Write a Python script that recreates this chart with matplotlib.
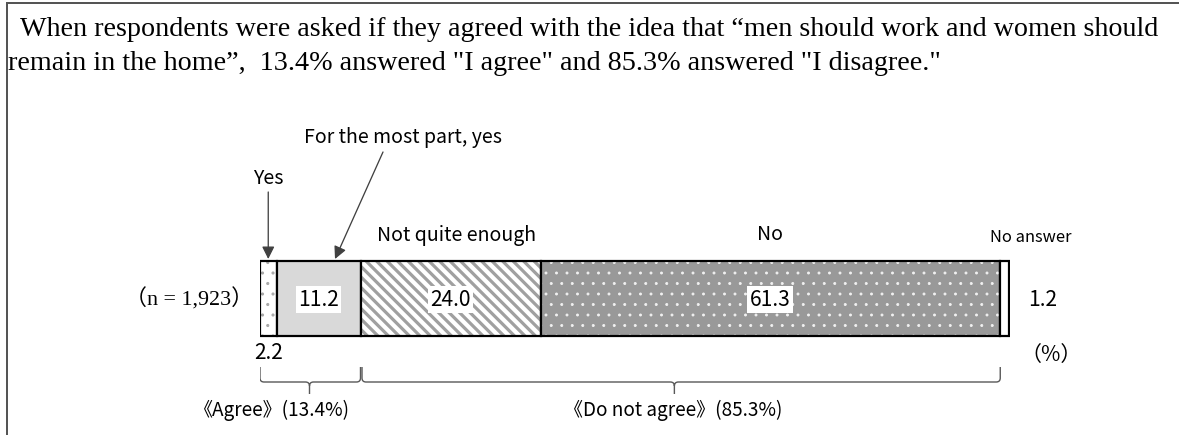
import matplotlib
matplotlib.use("Agg")
import matplotlib.pyplot as plt
import numpy as np
from matplotlib.path import Path
from matplotlib.patches import PathPatch
from matplotlib.lines import Line2D

# data
categories = ["Yes", "For the most part, yes", "Not quite enough", "No", "No answer"]
values = [2.2, 11.2, 24.0, 61.3, 1.2]
groups = ["《Agree》(13.4%)", "《Do not agree》(85.3%)"]
group_totals = [13.4, 85.3]
n_label = "（n = 1,923）"
header = ["When respondents were asked if they agreed with the idea that \u201cmen should work and women should",
          "remain in the home\u201d,  13.4% answered \"I agree\" and 85.3% answered \"I disagree.\""]

W, H, DPI = 1179, 435, 126


def pt(px):
    return px * 72 / DPI


GOTHIC = ["Noto Sans CJK JP", "DejaVu Sans"]
SERIF = ["Liberation Serif", "Noto Sans CJK JP", "DejaVu Serif"]

fig = plt.figure(figsize=(W / DPI, H / DPI), dpi=DPI)
# x in percent (0..100 -> 260..1010 px), y in pixels from the top
ax = fig.add_axes([260 / W, 0, 750 / W, 1])
ax.set_xlim(0, 100)
ax.set_ylim(H, 0)
ax.axis("off")

# frame lines
fig.add_artist(Line2D([7 / W, 1], [1 - 3 / H, 1 - 3 / H], color="#555555", lw=pt(2)))
fig.add_artist(Line2D([7 / W, 7 / W], [1 - 3 / H, 0], color="#555555", lw=pt(2)))

# header text
fig.text(20 / W, 1 - 29 / H, header[0], family=SERIF, fontsize=pt(28.1), va="center", ha="left")
fig.text(8 / W, 1 - 63 / H, header[1], family=SERIF, fontsize=pt(28.1), va="center", ha="left")

# bar
bar_y, bar_h = 298.5, 75
fills = ["white", "#d9d9d9", "white", "#999999", "white"]
hatch_cols = ["#a8a8a8", "#d9d9d9", "#a0a0a0", "#f2f2f2", "white"]
hatches = ["..", None, "\\\\\\\\", "..", None]
hatch_lw = [1.0, 1.0, 3.2, 0.8, 1.0]
lefts = np.concatenate([[0], np.cumsum(values)[:-1]])
for v, l, fc, hc, h, hl in zip(values, lefts, fills, hatch_cols, hatches, hatch_lw):
    plt.rcParams["hatch.linewidth"] = pt(hl)
    ax.barh(bar_y, v, left=l, height=bar_h, color=fc, edgecolor=hc, hatch=h, linewidth=0)
    ax.barh(bar_y, v, left=l, height=bar_h, fill=False, edgecolor="black", linewidth=pt(2.2))

centers = lefts + np.array(values) / 2

# values
num_fs = pt(21)
box = dict(facecolor="white", edgecolor="none", pad=1.5)
for i in [1, 2, 3]:
    ax.text(centers[i], bar_y + 1, f"{values[i]:.1f}", family=GOTHIC, fontsize=num_fs,
            ha="center", va="center", bbox=box)
ax.text(centers[0], 353, f"{values[0]:.1f}", family=GOTHIC, fontsize=num_fs, ha="center", va="center")
ax.text(102.4, bar_y + 1, f"{values[4]:.1f}", family=GOTHIC, fontsize=num_fs, ha="left", va="center")
ax.text(105.5, 355, "（%）", family=GOTHIC, fontsize=num_fs, ha="center", va="center")
ax.text(-9.4, bar_y + 1, n_label, family=SERIF, fontsize=pt(22), ha="center", va="center")

# category labels
lab_fs = pt(19.5)
ax.text(centers[2] + 0.8, 235, categories[2], family=GOTHIC, fontsize=lab_fs, ha="center", va="center")
ax.text(centers[3], 235, categories[3], family=GOTHIC, fontsize=lab_fs, ha="center", va="center")
ax.text(102.7, 238, categories[4], family=GOTHIC, fontsize=pt(16.5), ha="center", va="center")
arrow = dict(arrowstyle="-|>", color="#404040", lw=pt(1.3), mutation_scale=pt(26), shrinkA=0, shrinkB=0)
ax.annotate(categories[0], xy=(centers[0], 259), xytext=(centers[0], 178), family=GOTHIC,
            fontsize=lab_fs, ha="center", va="center",
            arrowprops=dict(arrow, relpos=(0.5, 0)), annotation_clip=False)
ax.annotate("", xy=(10.0, 259), xytext=(16.4, 152), arrowprops=arrow, annotation_clip=False)
ax.text(19.1, 138, categories[1], family=GOTHIC, fontsize=lab_fs, ha="center", va="center")


# braces with rounded corners
def brace(x0, x1, xm):
    top, mid, tip, r = 367, 382, 394, 4
    dx = r / 7.5
    verts = [(x0, top), (x0, mid - r), (x0, mid), (x0 + dx, mid),
             (xm - dx, mid), (xm, mid), (xm, mid + r), (xm, tip),
             (xm, mid + r), (xm, mid), (xm + dx, mid),
             (x1 - dx, mid), (x1, mid), (x1, mid - r), (x1, top)]
    codes = [Path.MOVETO, Path.LINETO, Path.CURVE3, Path.CURVE3,
             Path.LINETO, Path.CURVE3, Path.CURVE3, Path.LINETO,
             Path.MOVETO, Path.CURVE3, Path.CURVE3,
             Path.LINETO, Path.CURVE3, Path.CURVE3, Path.LINETO]
    ax.add_patch(PathPatch(Path(verts, codes), fill=False, edgecolor="#595959", lw=pt(1.4)))


g0 = group_totals[0]
g1 = g0 + group_totals[1]
brace(0, g0, g0 / 2 - 0.1)
brace(g0 + 0.2, g1, (g0 + g1) / 2 - 0.8)
grp_fs = pt(19)
ax.text(1.6, 410, groups[0], family=GOTHIC, fontsize=grp_fs, ha="center", va="center")
ax.text(55.1, 410, groups[1], family=GOTHIC, fontsize=grp_fs, ha="center", va="center")

fig.savefig("out.png", dpi=DPI)
